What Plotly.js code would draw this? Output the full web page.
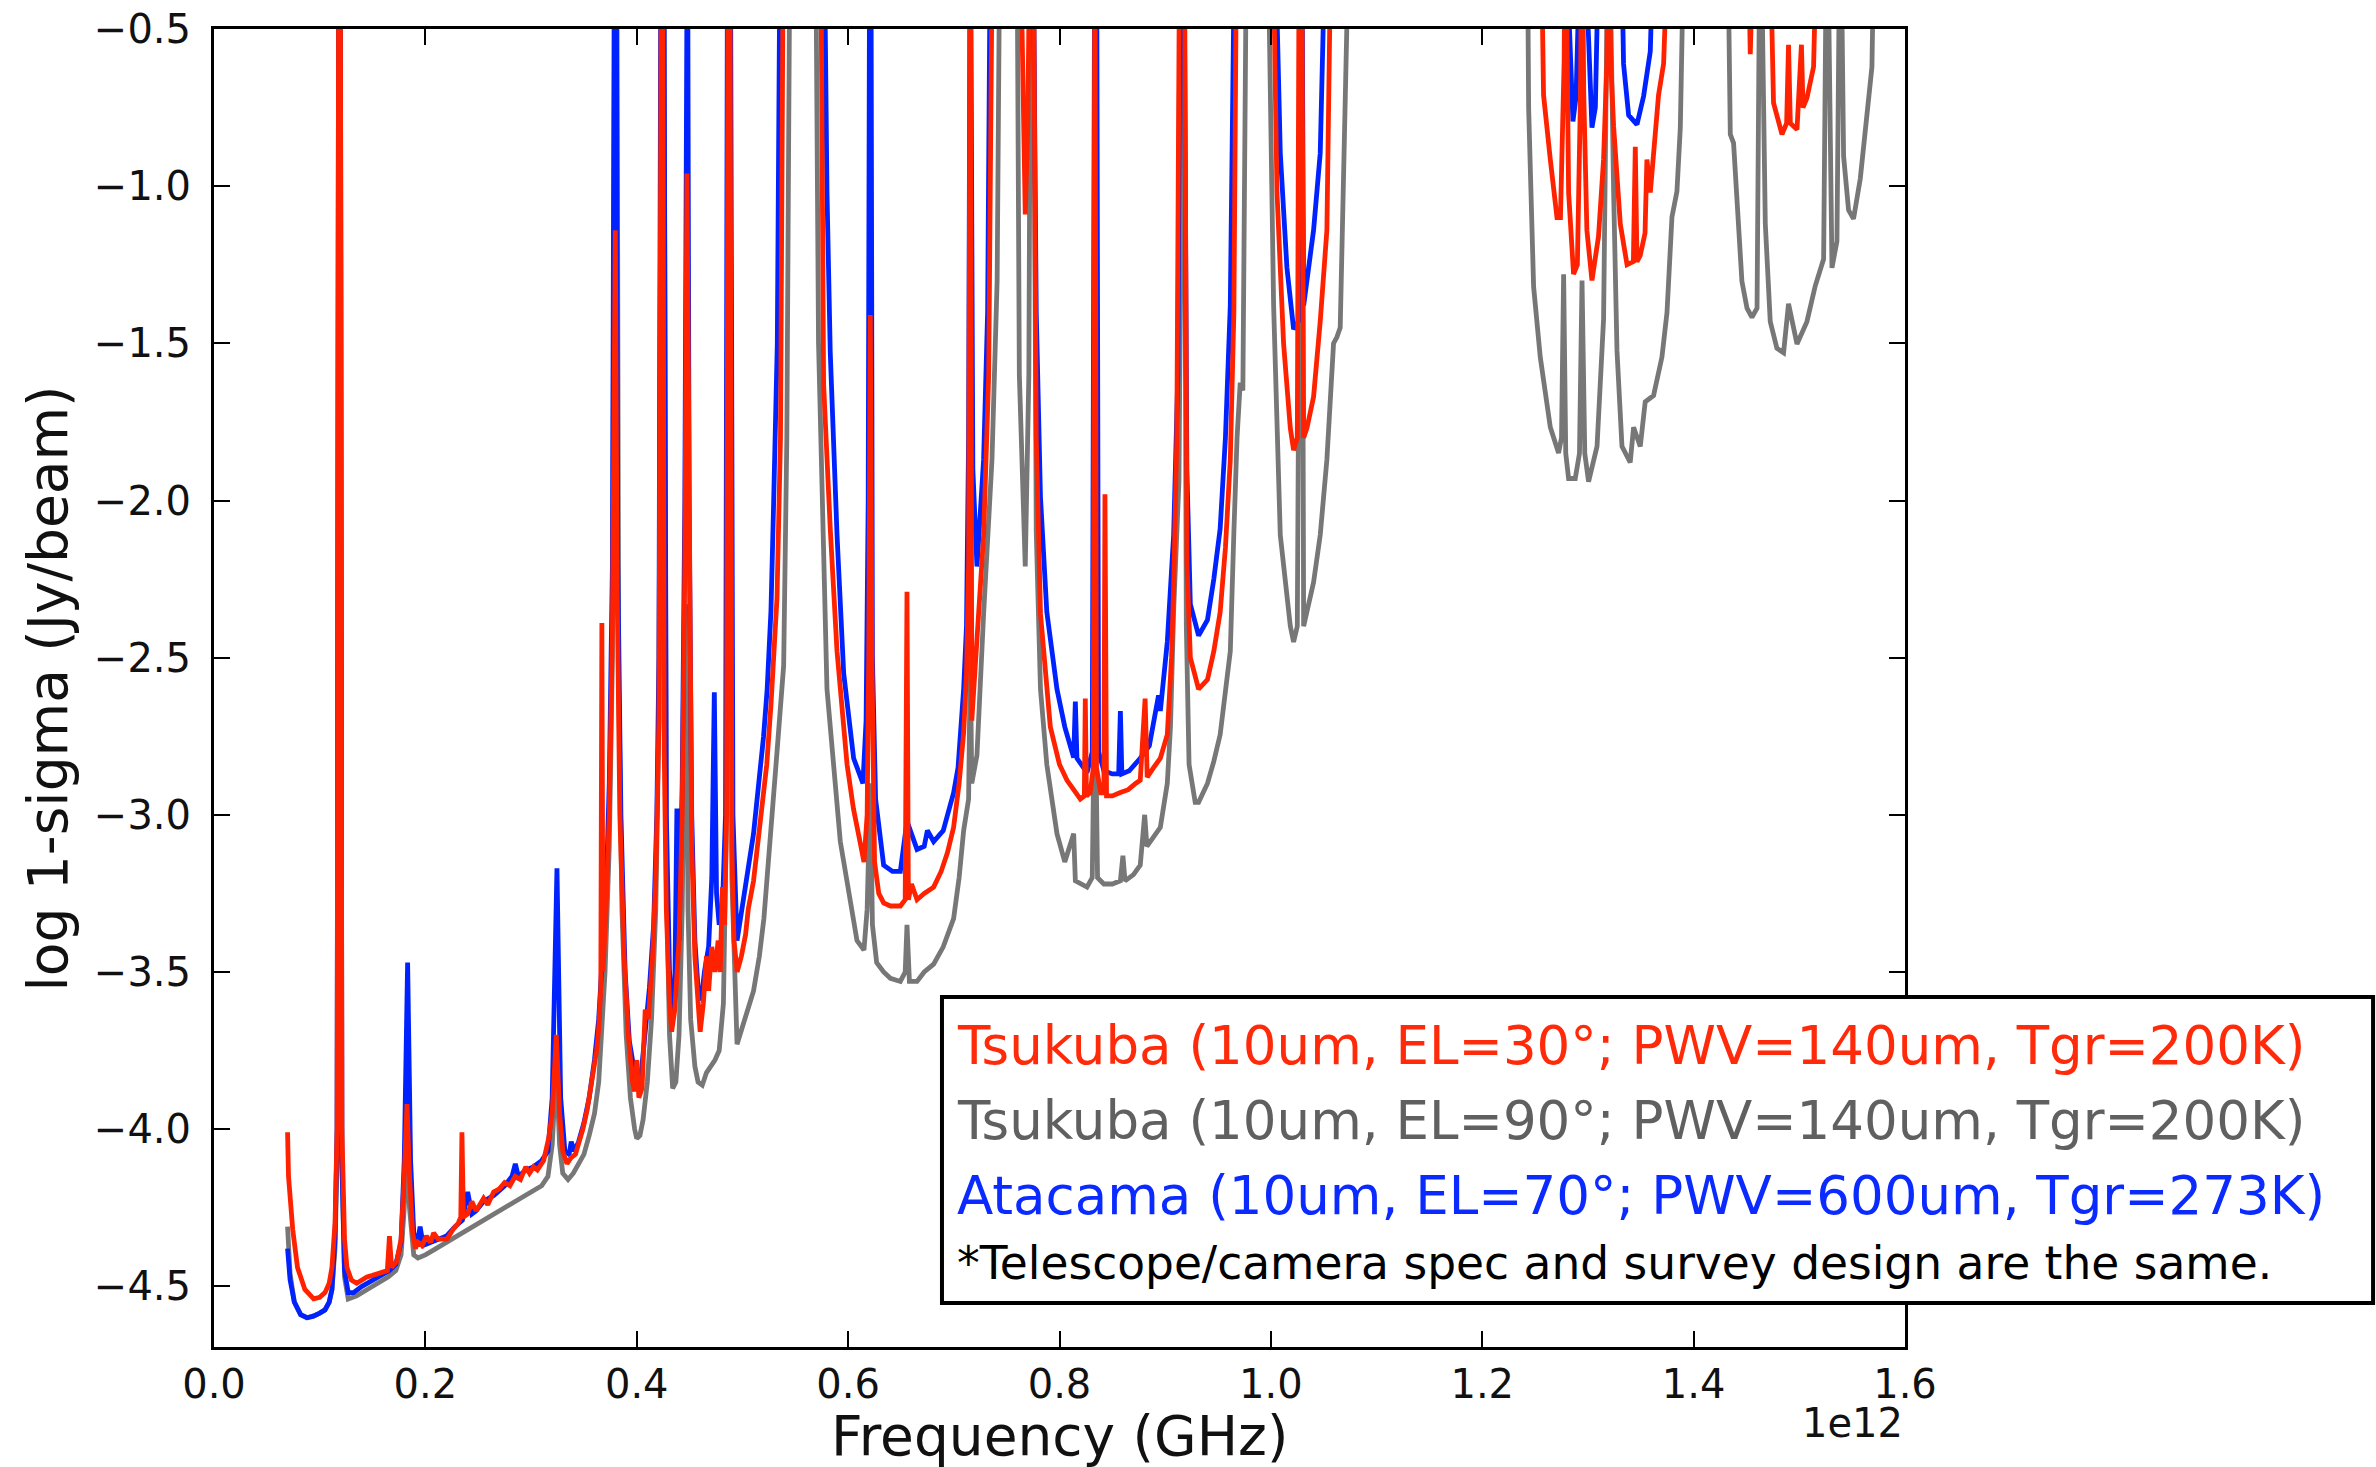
<!DOCTYPE html>
<html>
<head>
<meta charset="utf-8">
<script src="https://cdn.plot.ly/plotly-3.0.1.min.js"></script>
<style>html,body{margin:0;padding:0;background:#fff;}#chart{width:2376px;height:1467px;}</style>
</head>
<body>
<div id="chart"></div>
<script>
// Frequency in units of 1e12 Hz; values are log10 of 1-sigma (Jy/beam).
// Values of 0 lie above the plotted range (lines leave through the top).

// Tsukuba (EL=30°) - red
const redFreq = [
  0.0696, 0.0705, 0.0745, 0.079, 0.086, 0.0943, 0.100, 0.105,
  0.109, 0.1116, 0.1145, 0.1165, 0.118, 0.1195, 0.121, 0.1235,
  0.1258, 0.130, 0.135, 0.140, 0.1447, 0.150, 0.1605, 0.164,
  0.166, 0.168, 0.173, 0.177, 0.180, 0.1826, 0.185, 0.188,
  0.1905, 0.193, 0.197, 0.201, 0.205, 0.2078, 0.212, 0.2204,
  0.226, 0.231, 0.2335, 0.2346, 0.236, 0.240, 0.244, 0.248,
  0.2551, 0.259, 0.2646, 0.270, 0.275, 0.280, 0.285, 0.290,
  0.295, 0.2985, 0.3024, 0.306, 0.3119, 0.3166, 0.320, 0.3239,
  0.327, 0.330, 0.334, 0.338, 0.342, 0.345, 0.349, 0.353,
  0.357, 0.360, 0.362, 0.364, 0.366, 0.367, 0.368, 0.371,
  0.374, 0.377, 0.3797, 0.3815, 0.384, 0.388, 0.392, 0.396,
  0.398, 0.400, 0.402, 0.405, 0.408, 0.411, 0.415, 0.418,
  0.421, 0.4235, 0.4245, 0.426, 0.428, 0.431, 0.433, 0.436,
  0.440, 0.443, 0.4455, 0.4475, 0.4495, 0.452, 0.455, 0.458,
  0.460, 0.463, 0.466, 0.468, 0.471, 0.474, 0.477, 0.479,
  0.481, 0.483, 0.485, 0.4865, 0.488, 0.490, 0.492, 0.495,
  0.499, 0.503, 0.5055, 0.5105, 0.514, 0.518, 0.523, 0.527,
  0.5327, 0.536, 0.539, 0.5737, 0.5768, 0.5831, 0.5895, 0.599,
  0.605, 0.6115, 0.615, 0.618, 0.6195, 0.621, 0.6225, 0.625,
  0.629, 0.6336, 0.640, 0.6494, 0.654, 0.6557, 0.657, 0.660,
  0.6652, 0.672, 0.6809, 0.688, 0.694, 0.6998, 0.705, 0.7093,
  0.712, 0.714, 0.7156, 0.717, 0.7219, 0.7282, 0.733, 0.737,
  0.762, 0.7655, 0.7676, 0.770, 0.7725, 0.775, 0.778, 0.782,
  0.7913, 0.800, 0.8071, 0.8134, 0.8197, 0.8235, 0.8244, 0.8255,
  0.829, 0.832, 0.8335, 0.835, 0.839, 0.842, 0.843, 0.8445,
  0.850, 0.857, 0.865, 0.872, 0.8764, 0.881, 0.883, 0.889,
  0.8954, 0.902, 0.906, 0.908, 0.911, 0.914, 0.918, 0.9206,
  0.9238, 0.9316, 0.940, 0.946, 0.952, 0.957, 0.9616, 0.965,
  0.968, 1.001, 1.0058, 1.012, 1.0184, 1.0215, 1.025, 1.027,
  1.029, 1.031, 1.0341, 1.0404, 1.0467, 1.053, 1.0577, 1.2549,
  1.258, 1.2644, 1.2707, 1.274, 1.2775, 1.2786, 1.280, 1.2817,
  1.2864, 1.290, 1.293, 1.2944, 1.296, 1.299, 1.3038, 1.310,
  1.3148, 1.318, 1.3195, 1.3215, 1.3243, 1.3306, 1.337, 1.343,
  1.3448, 1.3464, 1.3495, 1.354, 1.3558, 1.359, 1.3668, 1.3716,
  1.378, 1.4505, 1.4536, 1.4583, 1.4709, 1.4756, 1.4836, 1.488,
  1.4898, 1.4915, 1.4978, 1.502, 1.5035, 1.5072, 1.5135, 1.518
];
const redSigma = [
  -4.01, -4.15, -4.32, -4.44, -4.51, -4.54, -4.535, -4.52,
  -4.49, -4.44, -4.30, -4.00, 0, 0, -4.00, -4.35,
  -4.44, -4.48, -4.49, -4.48, -4.47, -4.465, -4.455, -4.45,
  -4.34, -4.44, -4.42, -4.35, -4.15, -3.92, -4.15, -4.33,
  -4.38, -4.36, -4.37, -4.34, -4.36, -4.33, -4.35, -4.35,
  -4.32, -4.30, -4.28, -4.01, -4.28, -4.27, -4.23, -4.26,
  -4.22, -4.24, -4.20, -4.19, -4.17, -4.18, -4.15, -4.16,
  -4.12, -4.14, -4.12, -4.13, -4.10, -4.03, -3.95, -3.70,
  -3.95, -4.07, -4.11, -4.09, -4.08, -4.05, -4.00, -3.94,
  -3.86, -3.80, -3.75, -3.68, -3.55, -2.39, -3.50, -3.30,
  -3.00, -2.40, -1.14, -2.30, -3.00, -3.45, -3.70, -3.85,
  -3.88, -3.78, -3.90, -3.87, -3.62, -3.65, -3.45, -3.20,
  -2.70, 0, 0, -2.80, -3.30, -3.60, -3.69, -3.62,
  -3.40, -3.00, -2.20, -0.96, -2.20, -3.10, -3.45, -3.62,
  -3.69, -3.60, -3.45, -3.56, -3.42, -3.50, -3.40, -3.50,
  -3.23, -3.35, -3.00, 0, 0, -3.10, -3.40, -3.50,
  -3.45, -3.38, -3.30, -3.21, -3.10, -3.00, -2.84, -2.65,
  -2.31, -1.80, 0, 0, -1.63, -2.09, -2.48, -2.84,
  -2.98, -3.09, -3.15, -3.00, -2.50, -1.41, -2.50, -3.15,
  -3.25, -3.28, -3.29, -3.29, -3.27, -2.29, -3.27, -3.22,
  -3.27, -3.25, -3.23, -3.18, -3.12, -3.04, -2.90, -2.74,
  -2.55, -2.20, 0, -2.70, -2.45, -2.11, -1.60, 0,
  0, -0.80, -1.09, -0.80, 0, 0, -1.80, -2.36,
  -2.72, -2.84, -2.89, -2.92, -2.95, -2.94, -2.63, -2.94,
  -2.93, -2.85, 0, -2.85, -2.93, -2.93, -1.98, -2.94,
  -2.94, -2.93, -2.92, -2.90, -2.89, -2.63, -2.88, -2.85,
  -2.82, -2.745, -2.50, -2.28, -1.80, 0, 0, -2.20,
  -2.50, -2.60, -2.57, -2.48, -2.355, -2.15, -1.87, -1.40,
  0, 0, -1.02, -1.50, -1.77, -1.84, -1.80, 0,
  0, -1.80, -1.77, -1.67, -1.43, -1.14, 0, 0,
  -0.71, -0.915, -1.10, -1.10, -0.60, 0, -0.60, -1.02,
  -1.28, -1.25, -0.70, 0, -0.70, -1.14, -1.30, -1.16,
  -0.915, -0.60, 0, -0.60, -0.81, -1.12, -1.25, -1.24,
  -0.875, -1.24, -1.22, -1.15, -0.915, -1.02, -0.71, -0.61,
  0, 0, -0.58, 0, 0, -0.735, -0.835, -0.80,
  -0.55, -0.80, -0.82, -0.55, -0.75, -0.72, -0.62, 0
];

// Tsukuba (EL=90°) - gray
const grayFreq = [
  0.0696, 0.072, 0.076, 0.082, 0.088, 0.094, 0.100, 0.105,
  0.109, 0.1116, 0.1145, 0.1165, 0.118, 0.1195, 0.121, 0.1235,
  0.127, 0.135, 0.145, 0.155, 0.165, 0.172, 0.177, 0.180,
  0.1826, 0.185, 0.189, 0.193, 0.200, 0.210, 0.220, 0.230,
  0.240, 0.250, 0.260, 0.270, 0.280, 0.290, 0.300, 0.310,
  0.316, 0.320, 0.3239, 0.327, 0.330, 0.335, 0.340, 0.345,
  0.350, 0.355, 0.360, 0.364, 0.367, 0.370, 0.374, 0.377,
  0.3795, 0.381, 0.383, 0.386, 0.390, 0.394, 0.398, 0.400,
  0.403, 0.406, 0.410, 0.414, 0.418, 0.421, 0.4235, 0.4255,
  0.428, 0.431, 0.434, 0.437, 0.440, 0.443, 0.4465, 0.4485,
  0.451, 0.455, 0.458, 0.462, 0.466, 0.470, 0.474, 0.478,
  0.482, 0.485, 0.4865, 0.488, 0.490, 0.4949, 0.500, 0.505,
  0.5105, 0.516, 0.5203, 0.526, 0.530, 0.5327, 0.539, 0.542,
  0.5453, 0.5689, 0.572, 0.580, 0.5926, 0.6084, 0.615, 0.618,
  0.621, 0.623, 0.627, 0.6336, 0.640, 0.6494, 0.654, 0.6557,
  0.658, 0.6652, 0.672, 0.6809, 0.690, 0.6998, 0.705, 0.7093,
  0.714, 0.7156, 0.717, 0.7219, 0.7282, 0.7361, 0.741, 0.744,
  0.7595, 0.762, 0.7676, 0.771, 0.773, 0.775, 0.778, 0.782,
  0.788, 0.7976, 0.805, 0.8134, 0.815, 0.826, 0.831, 0.8335,
  0.836, 0.842, 0.850, 0.8576, 0.860, 0.862, 0.870, 0.8764,
  0.8806, 0.8827, 0.8954, 0.902, 0.905, 0.908, 0.913, 0.9155,
  0.9175, 0.920, 0.9226, 0.9284, 0.9316, 0.940, 0.946, 0.952,
  0.957, 0.9616, 0.965, 0.968, 0.971, 0.9735, 0.9774, 0.9963,
  1.0026, 1.0089, 1.0184, 1.0215, 1.025, 1.027, 1.029, 1.031,
  1.0404, 1.0467, 1.053, 1.0593, 1.0625, 1.0656, 1.0688, 1.0751,
  1.2423, 1.2439, 1.2486, 1.2549, 1.2644, 1.2722, 1.275, 1.277,
  1.279, 1.2817, 1.288, 1.292, 1.2944, 1.297, 1.3006, 1.3086,
  1.3148, 1.3195, 1.3243, 1.3275, 1.3322, 1.340, 1.3432, 1.3495,
  1.3542, 1.3621, 1.370, 1.3748, 1.3795, 1.3842, 1.3874, 1.392,
  1.4315, 1.4347, 1.4378, 1.441, 1.4457, 1.4505, 1.4552, 1.460,
  1.4631, 1.4678, 1.4725, 1.4788, 1.4851, 1.4898, 1.4978, 1.5072,
  1.5151, 1.523, 1.5262, 1.5309, 1.5356, 1.5388, 1.5419, 1.5466,
  1.5513, 1.5577, 1.564, 1.5687, 1.5718
];
const graySigma = [
  -4.31, -4.46, -4.55, -4.59, -4.60, -4.595, -4.585, -4.575,
  -4.55, -4.51, -4.38, -4.10, 0, 0, -4.10, -4.47,
  -4.54, -4.53, -4.51, -4.49, -4.47, -4.45, -4.40, -4.25,
  -4.05, -4.25, -4.40, -4.41, -4.40, -4.38, -4.36, -4.34,
  -4.32, -4.30, -4.28, -4.26, -4.24, -4.22, -4.20, -4.18,
  -4.15, -4.05, -3.80, -4.05, -4.14, -4.16, -4.14, -4.11,
  -4.08, -4.02, -3.95, -3.85, -3.70, -3.50, -3.10, -2.50,
  0, 0, -2.60, -3.30, -3.70, -3.90, -4.00, -4.03,
  -4.02, -3.97, -3.85, -3.65, -3.30, -2.70, 0, 0,
  -3.20, -3.70, -3.87, -3.85, -3.70, -3.30, -2.33, -3.30,
  -3.65, -3.80, -3.85, -3.86, -3.82, -3.80, -3.78, -3.75,
  -3.60, -3.00, 0, 0, -3.20, -3.73, -3.68, -3.62,
  -3.56, -3.45, -3.33, -3.10, -2.90, -2.80, -2.525, -1.80,
  0, 0, -1.50, -2.60, -3.085, -3.40, -3.43, -3.30,
  -2.90, -3.35, -3.47, -3.50, -3.52, -3.53, -3.50, -3.35,
  -3.53, -3.53, -3.50, -3.475, -3.42, -3.33, -3.20, -3.05,
  -2.95, -2.50, -2.90, -2.81, -2.36, -1.87, -1.30, 0,
  0, -1.60, -2.21, -1.60, 0, 0, -2.10, -2.60,
  -2.84, -3.06, -3.15, -3.06, -3.21, -3.23, -3.20, -2.55,
  -3.20, -3.22, -3.22, -3.21, -3.13, -3.21, -3.19, -3.16,
  -3.00, -3.10, -3.04, -2.90, -2.72, -2.35, -1.94, 0,
  0, -2.40, -2.84, -2.96, -2.96, -2.90, -2.83, -2.745,
  -2.62, -2.48, -2.10, -1.80, -1.625, -1.65, 0, 0,
  -1.38, -2.11, -2.40, -2.45, -2.40, 0, 0, -2.40,
  -2.26, -2.11, -1.87, -1.50, -1.48, -1.45, -0.895, 0,
  0, -0.753, -1.32, -1.544, -1.767, -1.849, -1.80, -1.28,
  -1.85, -1.93, -1.93, -1.85, -1.30, -1.85, -1.94, -1.828,
  -1.423, 0, -1.017, -1.524, -1.828, -1.879, -1.767, -1.828,
  -1.686, -1.666, -1.544, -1.402, -1.098, -1.017, -0.814, 0,
  0, -0.835, -0.863, -1.047, -1.303, -1.388, -1.417, -1.388,
  0, -1.118, -1.431, -1.516, -1.530, -1.374, -1.502, -1.431,
  -1.317, -1.232, 0, -1.260, -1.175, 0, -0.905, -1.076,
  -1.104, -0.976, -0.763, -0.621, 0
];

// Atacama (EL=70°) - blue
const blueFreq = [
  0.0696, 0.072, 0.076, 0.082, 0.088, 0.094, 0.100, 0.105,
  0.109, 0.1116, 0.1145, 0.1165, 0.118, 0.1195, 0.121, 0.1235,
  0.127, 0.132, 0.140, 0.150, 0.160, 0.166, 0.172, 0.177,
  0.180, 0.1832, 0.186, 0.189, 0.192, 0.195, 0.198, 0.205,
  0.212, 0.220, 0.228, 0.235, 0.240, 0.244, 0.248, 0.255,
  0.265, 0.275, 0.282, 0.2851, 0.288, 0.295, 0.302, 0.310,
  0.316, 0.320, 0.3245, 0.328, 0.332, 0.336, 0.338, 0.341,
  0.345, 0.350, 0.355, 0.360, 0.364, 0.367, 0.371, 0.374,
  0.377, 0.379, 0.3805, 0.382, 0.385, 0.389, 0.393, 0.397,
  0.400, 0.404, 0.408, 0.412, 0.416, 0.419, 0.421, 0.423,
  0.4255, 0.428, 0.431, 0.434, 0.436, 0.438, 0.440, 0.443,
  0.4455, 0.447, 0.448, 0.4495, 0.452, 0.455, 0.458, 0.461,
  0.464, 0.468, 0.471, 0.4734, 0.4755, 0.478, 0.481, 0.484,
  0.486, 0.4885, 0.491, 0.4949, 0.500, 0.505, 0.5105, 0.515,
  0.520, 0.5234, 0.527, 0.5295, 0.533, 0.536, 0.5768, 0.580,
  0.5831, 0.5895, 0.5958, 0.6052, 0.610, 0.614, 0.617, 0.619,
  0.6205, 0.6215, 0.623, 0.626, 0.6336, 0.642, 0.6494, 0.6557,
  0.6652, 0.672, 0.675, 0.6809, 0.690, 0.6998, 0.704, 0.7093,
  0.712, 0.714, 0.7156, 0.718, 0.7219, 0.7282, 0.732, 0.735,
  0.7745, 0.778, 0.782, 0.788, 0.7976, 0.805, 0.8134, 0.815,
  0.8165, 0.826, 0.831, 0.8335, 0.835, 0.837, 0.842, 0.850,
  0.856, 0.8576, 0.859, 0.866, 0.8764, 0.885, 0.8937, 0.8954,
  0.902, 0.908, 0.912, 0.9145, 0.9175, 0.9205, 0.9238, 0.9316,
  0.940, 0.946, 0.952, 0.957, 0.9616, 0.9664, 1.0026, 1.0089,
  1.0152, 1.0215, 1.026, 1.027, 1.029, 1.031, 1.0404, 1.0467,
  1.053, 1.2770, 1.2833, 1.2858, 1.2888, 1.2944, 1.3006, 1.3038,
  1.307, 1.3117, 1.3306, 1.3337, 1.3385, 1.3464, 1.3527, 1.359,
  1.3637
];
const blueSigma = [
  -4.38, -4.48, -4.55, -4.59, -4.60, -4.595, -4.585, -4.575,
  -4.55, -4.51, -4.35, -4.00, 0, 0, -4.10, -4.45,
  -4.52, -4.52, -4.50, -4.48, -4.46, -4.45, -4.43, -4.36,
  -4.10, -3.47, -4.10, -4.33, -4.37, -4.31, -4.37, -4.36,
  -4.35, -4.34, -4.31, -4.29, -4.20, -4.27, -4.26, -4.23,
  -4.21, -4.18, -4.15, -4.11, -4.15, -4.13, -4.12, -4.10,
  -4.07, -3.90, -3.17, -3.90, -4.07, -4.08, -4.04, -4.07,
  -4.04, -3.98, -3.90, -3.78, -3.65, -3.50, -3.25, -2.90,
  -2.20, 0, 0, -2.20, -3.00, -3.50, -3.72, -3.80,
  -3.83, -3.83, -3.70, -3.55, -3.35, -3.00, -2.50, 0,
  0, -3.00, -3.50, -3.62, -3.55, -2.98, -3.40, -2.90,
  -2.00, 0, 0, -2.00, -3.00, -3.40, -3.55, -3.59,
  -3.50, -3.42, -3.20, -2.61, -3.25, -3.35, -3.30, -3.00,
  0, 0, -3.00, -3.40, -3.30, -3.18, -3.06, -2.92,
  -2.75, -2.60, -2.35, -2.01, -1.50, 0, 0, -1.02,
  -1.53, -2.11, -2.55, -2.82, -2.87, -2.90, -2.70, -2.00,
  0, 0, -2.50, -2.95, -3.16, -3.18, -3.18, -3.02,
  -3.11, -3.10, -3.05, -3.085, -3.05, -2.93, -2.85, -2.60,
  -2.40, -1.80, 0, -1.90, -2.21, -1.87, -1.40, 0,
  0, -1.40, -1.99, -2.355, -2.60, -2.72, -2.818, -2.64,
  -2.82, -2.866, -2.80, 0, 0, -2.80, -2.86, -2.87,
  -2.87, -2.67, -2.87, -2.86, -2.82, -2.78, -2.62, -2.67,
  -2.45, -2.11, -1.60, 0, 0, -1.90, -2.33, -2.43,
  -2.38, -2.25, -2.09, -1.80, -1.38, 0, 0, -0.895,
  -1.26, -1.455, -1.43, 0, 0, -1.38, -1.14, -0.895,
  0, 0, -0.611, -0.794, -0.713, 0, -0.53, -0.814,
  -0.75, 0, 0, -0.611, -0.774, -0.804, -0.713, -0.571,
  0
];

const xTickVals = [0.0, 0.2, 0.4, 0.6, 0.8, 1.0, 1.2, 1.4, 1.6];
const xTickText = ["0.0", "0.2", "0.4", "0.6", "0.8", "1.0", "1.2", "1.4", "1.6"];
const yTickVals = [-4.5, -4.0, -3.5, -3.0, -2.5, -2.0, -1.5, -1.0, -0.5];
const yTickText = ["\u22124.5", "\u22124.0", "\u22123.5", "\u22123.0", "\u22122.5", "\u22122.0", "\u22121.5", "\u22121.0", "\u22120.5"];

const seriesNames = [
  "Tsukuba (10um, EL=30°; PWV=140um, Tgr=200K)",
  "Tsukuba (10um, EL=90°; PWV=140um, Tgr=200K)",
  "Atacama (10um, EL=70°; PWV=600um, Tgr=273K)"
];
const noteText = "*Telescope/camera spec and survey design are the same.";

const RED = "#ff2200", GRAY = "#777777", BLUE = "#0022ff";
const FONT = "DejaVu Sans, Verdana, sans-serif";

const traces = [
  {x: grayFreq, y: graySigma, name: seriesNames[1], mode: "lines", line: {color: GRAY, width: 4.8}},
  {x: blueFreq, y: blueSigma, name: seriesNames[2], mode: "lines", line: {color: BLUE, width: 4.8}},
  {x: redFreq, y: redSigma, name: seriesNames[0], mode: "lines", line: {color: RED, width: 4.8}}
];

const axisCommon = {
  ticks: "inside", ticklen: 16, tickwidth: 2, tickcolor: "#000",
  mirror: "allticks", showline: true, linewidth: 3, linecolor: "#000",
  showgrid: false, zeroline: false,
  tickfont: {family: FONT, size: 40, color: "#111"}
};

const layout = {
  width: 2376, height: 1467,
  margin: {l: 214, r: 471, t: 29, b: 120, pad: 0},
  paper_bgcolor: "#fff", plot_bgcolor: "#fff",
  showlegend: false,
  xaxis: Object.assign({}, axisCommon, {
    range: [0, 1.6], tickmode: "array", tickvals: xTickVals, ticktext: xTickText,
    ticklabelstandoff: 0
  }),
  yaxis: Object.assign({}, axisCommon, {
    range: [-4.693, -0.5], tickmode: "array", tickvals: yTickVals, ticktext: yTickText,
    ticklabelstandoff: 12
  }),
  shapes: [
    {type: "rect", xref: "paper", yref: "paper", x0: 0.4305, x1: 1.2768, y0: 0.0334, y1: 0.2656,
     line: {color: "#000", width: 4}, fillcolor: "#fff", layer: "above"}
  ],
  annotations: [
    {text: "Frequency (GHz)", xref: "paper", yref: "paper", x: 0.5, y: -0.0675,
     xanchor: "center", yanchor: "middle", showarrow: false,
     font: {family: FONT, size: 55, color: "#111"}},
    {text: "log 1-sigma (Jy/beam)", xref: "paper", yref: "paper", x: -0.0979, y: 0.5,
     xanchor: "center", yanchor: "middle", textangle: -90, showarrow: false,
     font: {family: FONT, size: 55, color: "#111"}},
    {text: "1e12", xref: "paper", yref: "paper", x: 1.0, y: -0.0575,
     xanchor: "right", yanchor: "middle", showarrow: false,
     font: {family: FONT, size: 40, color: "#111"}},
    {text: seriesNames[0], xref: "paper", yref: "paper", x: 0.4382, y: 0.2284,
     xanchor: "left", yanchor: "middle", showarrow: false,
     font: {family: FONT, size: 53, color: "#ff2a0a"}},
    {text: seriesNames[1], xref: "paper", yref: "paper", x: 0.4382, y: 0.1722,
     xanchor: "left", yanchor: "middle", showarrow: false,
     font: {family: FONT, size: 53, color: "#606060"}},
    {text: seriesNames[2], xref: "paper", yref: "paper", x: 0.4382, y: 0.1153,
     xanchor: "left", yanchor: "middle", showarrow: false,
     font: {family: FONT, size: 53, color: "#0a2aff"}},
    {text: noteText, xref: "paper", yref: "paper", x: 0.4382, y: 0.0637,
     xanchor: "left", yanchor: "middle", showarrow: false,
     font: {family: FONT, size: 45.5, color: "#000"}}
  ]
};

Plotly.newPlot("chart", traces, layout, {staticPlot: true, displayModeBar: false});
</script>
</body>
</html>
